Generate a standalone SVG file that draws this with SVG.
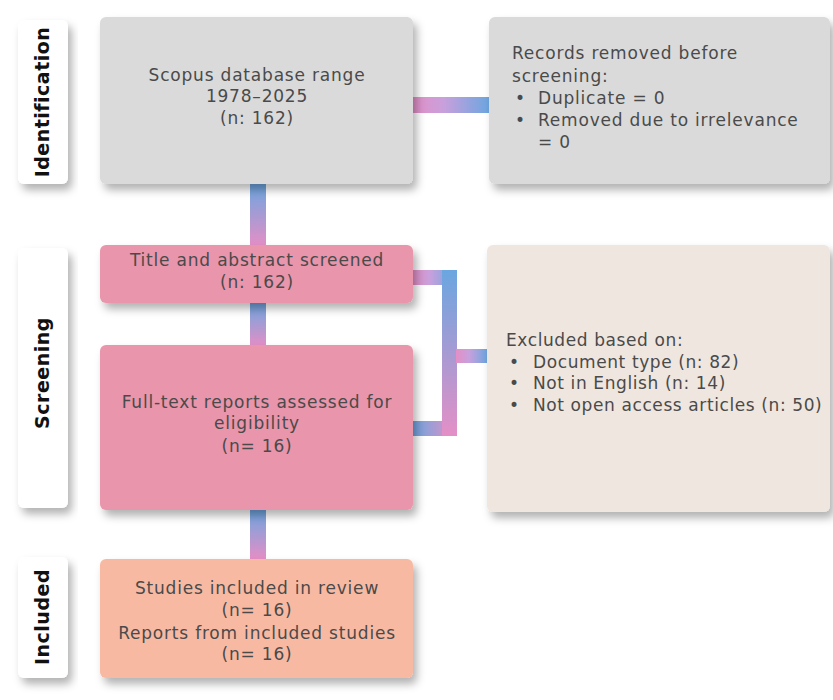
<svg xmlns="http://www.w3.org/2000/svg" width="833" height="700" viewBox="0 0 833 700">
<defs>
<filter id="sh" x="-20%" y="-20%" width="140%" height="150%">
<feDropShadow dx="4" dy="6" stdDeviation="4" flood-color="#000" flood-opacity="0.3"/>
</filter>
<linearGradient id="gPB" x1="0" y1="0" x2="1" y2="0"><stop offset="0" stop-color="#e48fc6"/><stop offset="0.4" stop-color="#c9a0dc"/><stop offset="1" stop-color="#6aa6e0"/></linearGradient>
<linearGradient id="gBP" x1="0" y1="0" x2="1" y2="0"><stop offset="0" stop-color="#6aa6e0"/><stop offset="1" stop-color="#e48fc6"/></linearGradient>
<linearGradient id="vBP" x1="0" y1="0" x2="0" y2="1"><stop offset="0" stop-color="#6aa6e0"/><stop offset="1" stop-color="#e48fc6"/></linearGradient>
<style>
.lab{fill:#fff;filter:url(#sh)}
.lt{font-family:"DejaVu Sans",sans-serif;font-weight:bold;font-size:19px;letter-spacing:0.5px;fill:#111;text-anchor:middle}
.t{font-family:"DejaVu Sans",sans-serif;font-size:17px;letter-spacing:0.8px;fill:#4a4a4a}
.n{letter-spacing:0.6px}
.c{text-anchor:middle}
.gray{fill:#dadada;filter:url(#sh)}
.pink{fill:#e995ab;filter:url(#sh)}
.beige{fill:#efe6df;filter:url(#sh)}
.salmon{fill:#f8b9a3;filter:url(#sh)}
</style>
</defs>
<g id="connectors">
<rect x="412" y="97" width="78" height="16" fill="url(#gPB)"/>
<rect x="250" y="183" width="16" height="63" fill="url(#vBP)"/>
<rect x="250" y="302" width="16" height="44" fill="url(#vBP)"/>
<rect x="250" y="509" width="16" height="50" fill="url(#vBP)"/>
<rect x="412" y="270" width="44" height="15" fill="url(#gPB)"/>
<rect x="412" y="421" width="44" height="15" fill="url(#gBP)"/>
<rect x="442" y="270" width="15" height="166" fill="url(#vBP)"/>
<rect x="456" y="349" width="32" height="14" fill="url(#gPB)"/>
</g>
<g id="label-identification">
<rect class="lab" x="18" y="20" width="50" height="164" rx="6"/>
<text class="lt" transform="translate(49,102) rotate(-90)">Identification</text>
</g>
<g id="label-screening">
<rect class="lab" x="18" y="248" width="50" height="260" rx="6"/>
<text class="lt" transform="translate(49,373) rotate(-90)">Screening</text>
</g>
<g id="label-included">
<rect class="lab" x="18" y="557" width="50" height="121" rx="6"/>
<text class="lt" transform="translate(49,617) rotate(-90)">Included</text>
</g>
<g id="node-scopus">
<rect class="gray" x="100" y="17" width="313" height="167" rx="6"/>
<text class="t c" x="257" y="81">Scopus database range</text>
<text class="t c" x="257" y="102">1978–2025</text>
<text class="t c" x="257" y="124">(n: 162)</text>
</g>
<g id="node-removed">
<rect class="gray" x="489" y="17" width="341" height="167" rx="6"/>
<text class="t" x="512" y="59">Records removed before</text>
<text class="t" x="512" y="82">screening:</text>
<text class="t" x="515" y="104">•</text><text class="t" x="538" y="104">Duplicate = 0</text>
<text class="t" x="515" y="126">•</text><text class="t" x="538" y="126">Removed due to irrelevance</text>
<text class="t" x="538" y="148">= 0</text>
</g>
<g id="node-title">
<rect class="pink" x="100" y="245" width="313" height="58" rx="6"/>
<text class="t c" x="257" y="266">Title and abstract screened</text>
<text class="t c" x="257" y="288">(n: 162)</text>
</g>
<g id="node-fulltext">
<rect class="pink" x="100" y="345" width="313" height="165" rx="6"/>
<text class="t c" x="257" y="408">Full-text reports assessed for</text>
<text class="t c" x="257" y="429">eligibility</text>
<text class="t c" x="257" y="452">(n= 16)</text>
</g>
<g id="node-excluded">
<rect class="beige" x="487" y="245" width="343" height="267" rx="6"/>
<text class="t n" x="506" y="346">Excluded based on:</text>
<text class="t n" x="509" y="368">•</text><text class="t n" x="533" y="368">Document type (n: 82)</text>
<text class="t n" x="509" y="389">•</text><text class="t n" x="533" y="389">Not in English (n: 14)</text>
<text class="t n" x="509" y="411">•</text><text class="t n" x="533" y="411">Not open access articles (n: 50)</text>
</g>
<g id="node-included">
<rect class="salmon" x="100" y="559" width="313" height="119" rx="6"/>
<text class="t c" x="257" y="594">Studies included in review</text>
<text class="t c" x="257" y="616">(n= 16)</text>
<text class="t c" x="257" y="639">Reports from included studies</text>
<text class="t c" x="257" y="660">(n= 16)</text>
</g>
</svg>
